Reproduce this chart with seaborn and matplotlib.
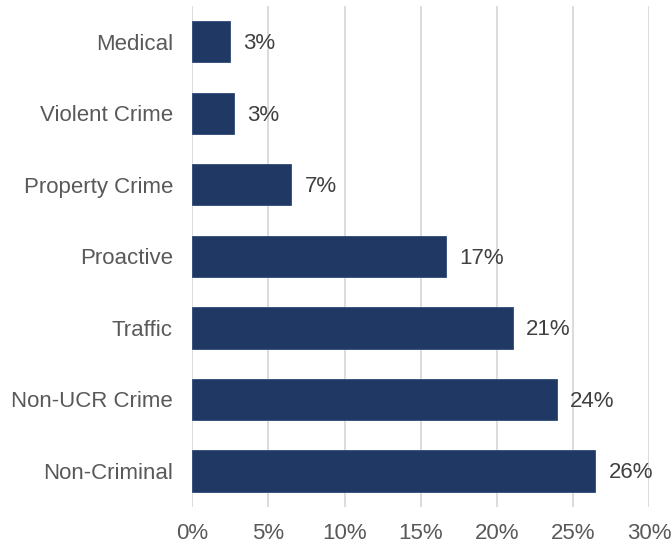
import pandas as pd
import matplotlib.pyplot as plt
import seaborn as sns

# Call types and their share of calls (percent)
categories = ["Medical", "Violent Crime", "Property Crime", "Proactive",
              "Traffic", "Non-UCR Crime", "Non-Criminal"]
shares = [2.5, 2.75, 6.5, 16.65, 21.05, 23.95, 26.45]
share_labels = ["3%", "3%", "7%", "17%", "21%", "24%", "26%"]
x_ticks = [0, 5, 10, 15, 20, 25, 30]

df = pd.DataFrame({"category": categories, "share": shares})

sns.set_theme(style="white")
plt.rcParams["font.family"] = ["Liberation Sans", "DejaVu Sans"]

text_grey = "#595959"
label_grey = "#404040"
bar_blue = "#1F3864"

fig = plt.figure(figsize=(6.72, 5.46), dpi=100)
ax = fig.add_axes([0.2862, 0.0723, 0.68, 0.9167])

sns.barplot(data=df, x="share", y="category", orient="h", color=bar_blue,
            width=0.58, saturation=1, edgecolor="#2E4A7A", linewidth=0.6, ax=ax)

# value labels just right of each bar
for i, (v, lab) in enumerate(zip(shares, share_labels)):
    ax.annotate(lab, xy=(v, i), xytext=(9.5, -1.5), textcoords="offset points",
                ha="left", va="center", fontsize=16, color=label_grey)

ax.set_xlim(0, 30)
ax.set_ylim(6.5, -0.5)
ax.set_xticks(x_ticks)
ax.set_xticklabels([f"{t}%" for t in x_ticks])
ax.set_xlabel("")
ax.set_ylabel("")

ax.grid(axis="x", color="#D9D9D9", linewidth=1.3)
ax.set_axisbelow(True)
for s in ax.spines.values():
    s.set_visible(False)
ax.tick_params(axis="y", length=0, pad=14, labelsize=16, labelcolor=text_grey)
ax.tick_params(axis="x", length=0, pad=12, labelsize=16, labelcolor=text_grey)

fig.savefig("out.png", dpi=100)
